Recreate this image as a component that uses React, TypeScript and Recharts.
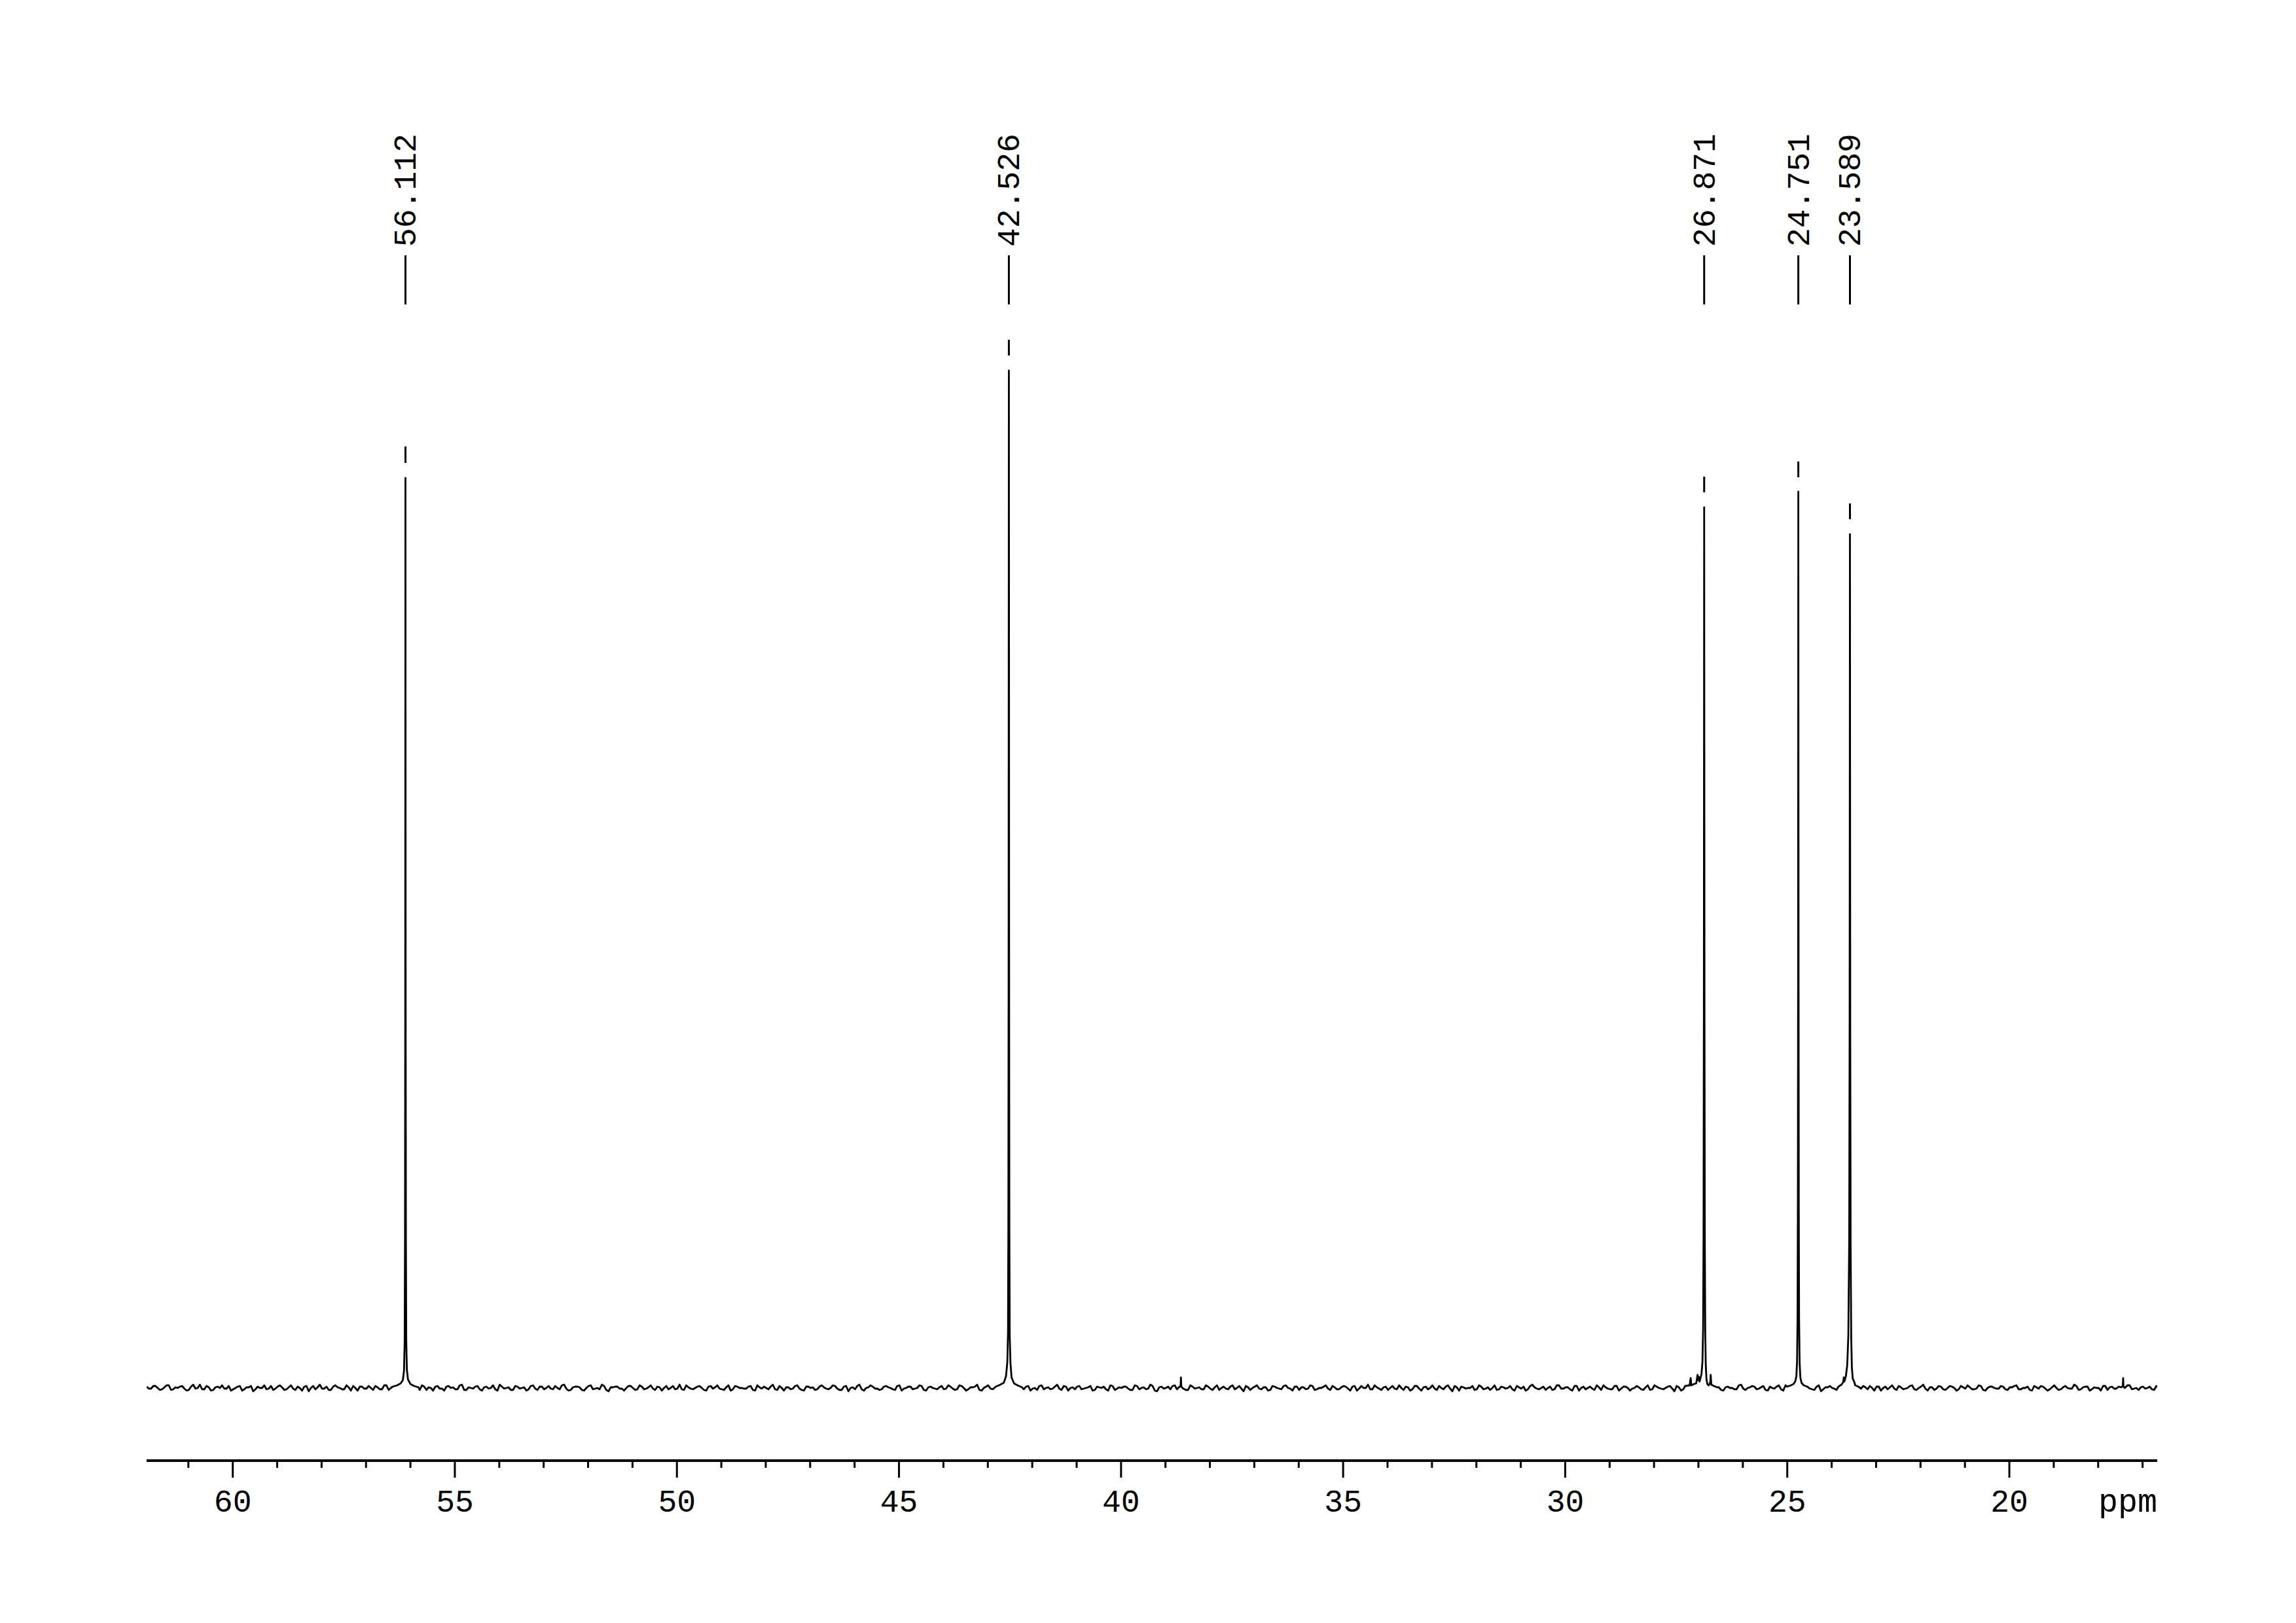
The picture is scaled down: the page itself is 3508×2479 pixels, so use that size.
import React from 'react';
import { ComposedChart, Line, XAxis, YAxis, Scatter, ReferenceLine, Label } from 'recharts';

// ---- axis ----
const X_MIN = 16.67;
const X_MAX = 61.94;
const TICKS = [61, 60, 59, 58, 57, 56, 55, 54, 53, 52, 51, 50, 49, 48, 47, 46, 45, 44, 43, 42, 41, 40, 39, 38, 37, 36, 35, 34, 33, 32, 31, 30, 29, 28, 27, 26, 25, 24, 23, 22, 21, 20, 19, 18, 17];
const AXIS_UNIT = 'ppm';

// ---- baseline noise (sampled every 0.1 ppm from 61.94 downward, plus the in-between samples) ----
const BASE_START = 61.94;
const BASE_STEP = 0.1;
const BASE_NOISE = [
  2, -1, 3, -3, 1, 4, -2, 0, 3, -4, 2, -1, 5, -2, 1, -3, 2, 4, -1, -4, 0, 3, -2, 1, -5, 2, 0, -2, 3, -1,
  4, -3, 1, -1, 2, -4, 3, 0, -2, 5, -1, -3, 2, 1, -2, 4, -4, 0, 2, -1, 3, -3, 1, -2, 4, 0, -5, 2, -1, 3,
  -2, 1, 4, -3, 0, 2, -1, -4, 3, 1, -2, 5, -3, 0, 2, -2, 1, -1, 4, -4, 2, 0, -3, 3, -1, 1, -2, 4, -3, 2,
  0, -1, 3, -2, 5, -4, 1, 2, -3, 0, 4, -1, -2, 3, -5, 1, 2, -1, 0, 3, -3, 4, -2, 1, -1, 2, -4, 3, 0, -2,
  5, -3, 1, -2, 2, 0, -4, 3, 1, -1, -3, 4, -2, 2, 0, -1, 3, -4, 1, 2, -2, 5, -3, 0, 1, -2, 3, -1, -4, 2,
  1, -2, 4, -1, 0, 3, -3, 2, -5, 1, 3, -2, 0, 4, -1, -3, 2, 1, -2, 3, -4, 0, 2, -1, 4, -3, 1, 0, -2, 3,
  -1, 2, -3, 4, 0, -2, 1, 5, -4, 2, -1, 0, 3, -3, 1, -2, 4, -1, 2, -4, 0, 3, -2, 1, -1, 5, -3, 2, 0, -2,
  3, -1, 1, -4, 2, 0, -2, 4, -3, 1, 2, -1, -3, 3, 0, -2, 5, -4, 1, -1, 2, 3, -2, 0, -3, 4, -1, 1, -2, 2,
  -3, 4, 0, -1, 2, -2, 3, -5, 1, 0, 4, -2, 1, -3, 2, -1, 3, 0, -4, 2, 1, -2, 4, -3, 0, 2, -1, 3, -2, 1,
  2, -4, 3, -1, 0, 5, -2, 1, -3, 2, 0, -1, 4, -3, 1, -2, 3, -4, 2, 0, -1, 3, -2, 4, -5, 1, 2, -1, 0, -3,
  4, -2, 1, 0, -3, 2, -1, 3, -4, 1, 2, -2, 5, -1, 0, -3, 2, -2, 4, -1, 1, -4, 3, 0, -2, 2, -3, 1, 4, -1,
  -2, 3, -1, 2, -4, 0, 1, -3, 4, -2, 2, -1, 0, 3, -5, 1, -2, 4, -1, 2, -3, 0, 3, -1, 1, -4, 2, 0, -2, 5,
  -3, 1, 2, -1, 3, -4, 0, 2, -2, 4, -1, 1, -3, 3, 0, -2, 2, -5, 1, 3, -1, -2, 4, 0, -3, 2, -1, 1, 3, -4,
  2, 0, -2, 4, -3, 1, -1, 3, -2, 0, 5, -4, 1, -1, 2, -3, 3, 0, -2, 1, 4, -2, -1, 3, -4, 2, 0, -1, 2, -3,
  1, 4, -2, 0, -3, 3, -1, 2, -4, 1, 0, -2, 3, -1, 5, -3, 1, 2, -2, 0, -4, 3, 1, -1, 2, -3, 4, -2, 0, 1,
  -1, 2, -3, 1,
];
const BASE_NOISE_MID = [
  -1, 3, 0, -2, 4, -3, 1, 2, -1, -3, 5, 0, -2, 3, -4, 1, 0, -1, 3, -2, 2, -4, 1, 3, -2, 0, 4, -1, -3, 2,
  1, -2, 4, -3, 0, 2, -5, 3, 1, -1, 2, -3, 4, 0, -2, 1, 3, -4, 2, -1, 0, 3, -2, 4, -3, 1, -1, 2, -4, 3,
  0, -3, 2, 1, -4, 3, -1, 2, 0, -2, 4, -3, 1, -1, 3, -4, 2, 0, -2, 5, -1, 1, -3, 2, 0, -4, 3, -1, 2, -2,
  3, -2, 0, 4, -1, -3, 2, 1, -4, 3, -2, 0, 5, -3, 1, 2, -1, -4, 3, 0, -2, 2, -1, 4, -3, 1, 0, -2, 3, -1,
  -2, 4, -1, 0, 3, -3, 2, -1, 4, -2, 1, -4, 3, 0, -1, 2, -3, 4, -1, 0, 2, -2, 3, -4, 1, -1, 4, -3, 2, 0,
  -3, 2, 1, -2, 4, -1, -3, 3, 0, -2, 5, -4, 1, 2, -1, -2, 3, 0, -3, 4, -1, 2, -2, 0, 3, -4, 2, -1, 1, -2,
  4, -1, -2, 3, -4, 1, 2, -3, 0, 4, -2, 1, -1, 3, -4, 2, 0, -2, 3, -1, -3, 4, 0, -2, 2, -1, 3, -4, 1, 2,
  -2, 0, 3, -3, 1, 2, -4, 3, -1, 0, 2, -3, 4, -2, 1, -1, 3, -5, 2, 0, -2, 4, -1, 1, -3, 2, 0, -2, 4, -1,
  1, -3, 2, -2, 4, 0, -1, 3, -3, 2, -1, 1, -4, 3, 0, -2, 4, -1, 2, -3, 1, -1, 3, -2, 0, 4, -3, 1, -2, 3,
  -1, 2, -4, 3, 0, -2, 4, -1, 1, -3, 3, -2, 0, 2, -4, 3, -1, 1, -2, 4, -3, 0, 2, -1, 3, -4, 1, 0, 3, -2,
  2, -1, -3, 4, -2, 1, 0, -2, 3, -1, -4, 3, 1, -2, 2, 0, -3, 4, -1, 1, -2, 3, -4, 2, 0, -1, 4, -3, 1, -2,
  3, -4, 2, 0, -1, 3, -2, 1, -3, 4, 0, -2, 2, -1, 3, -4, 1, 2, -3, 0, 4, -2, -1, 3, -3, 1, 0, -2, 4, -1,
  0, 3, -2, 1, -3, 2, -1, 4, -4, 1, 2, -2, 0, 3, -1, -3, 4, -2, 1, 0, -3, 3, -1, 2, -4, 1, 3, -2, 0, 2,
  -4, 2, 1, -1, 3, -2, 0, 4, -3, 2, -1, 1, -3, 3, -2, 0, 2, -4, 3, -1, 1, -2, 4, -3, 0, 2, -1, 3, -2, 1,
  3, -2, 0, 2, -4, 1, 3, -1, -2, 4, -3, 1, 0, -1, 3, -2, 2, -4, 1, 0, 3, -3, 2, -1, 1, -2, 4, -1, -3, 2,
  0, -2, 3, -1,
];

// ---- peaks (ppm, intensity) ----
const PEAK_56 = [
  [56.40, 2], [56.30, 4], [56.22, 7], [56.17, 12], [56.145, 26], [56.13, 70], [56.122, 220], [56.117, 560],
  [56.114, 1050], [56.112, 1390], [56.110, 1040], [56.107, 550], [56.102, 225], [56.094, 72], [56.08, 28],
  [56.055, 13], [56.00, 6], [55.92, 3], [55.82, 1],
];
const PEAK_42 = [
  [42.82, 2], [42.72, 5], [42.64, 8], [42.59, 18], [42.56, 40], [42.545, 85], [42.537, 250], [42.532, 600],
  [42.529, 1150], [42.526, 1554], [42.523, 1140], [42.520, 590], [42.515, 245], [42.507, 80], [42.49, 38],
  [42.465, 16], [42.41, 7], [42.33, 4], [42.23, 1],
];
const PEAK_26 = [
  [27.30, 3], [27.20, 4], [27.175, 15], [27.16, 4], [27.10, 6], [27.05, 7], [27.02, 20], [27.005, 12],
  [26.99, 17], [26.975, 10], [26.95, 16], [26.93, 22], [26.91, 40], [26.895, 90], [26.885, 230],
  [26.878, 560], [26.874, 1000], [26.871, 1345], [26.868, 990], [26.864, 560], [26.857, 230], [26.847, 85],
  [26.835, 35], [26.82, 14], [26.80, 6], [26.77, 4], [26.735, 8], [26.724, 20], [26.71, 5], [26.65, 3],
  [26.58, 1],
];
const PEAK_24 = [
  [25.00, 2], [24.92, 4], [24.86, 6], [24.82, 10], [24.795, 18], [24.78, 40], [24.768, 110], [24.761, 290],
  [24.756, 640], [24.753, 1050], [24.751, 1369], [24.749, 1040], [24.746, 630], [24.741, 280], [24.734, 105],
  [24.722, 38], [24.705, 16], [24.68, 8], [24.63, 4], [24.55, 2],
];
const PEAK_23 = [
  [23.85, 2], [23.78, 5], [23.74, 9], [23.727, 16], [23.715, 10], [23.68, 18], [23.65, 35], [23.625, 80],
  [23.605, 230], [23.596, 540], [23.592, 950], [23.589, 1304], [23.586, 940], [23.582, 530], [23.574, 220],
  [23.56, 75], [23.545, 30], [23.525, 14], [23.495, 10], [23.47, 4], [23.40, 2],
];
const SPIKE_38 = [[38.70, 1], [38.66, 3], [38.652, 16], [38.644, 2], [38.60, -1]];
const SPIKE_17 = [[17.48, 1], [17.445, 3], [17.438, 15], [17.43, 2], [17.40, 0]];

const FEATURES = [PEAK_56, PEAK_42, PEAK_26, PEAK_24, PEAK_23, SPIKE_38, SPIKE_17];

// peak pick annotations
const PEAK_PPM = [56.112, 42.526, 26.871, 24.751, 23.589];
const PEAK_LABELS = ['56.112', '42.526', '26.871', '24.751', '23.589'];
// short apex segments drawn above each peak
const PEAK_DASH_LO = [1413, 1577, 1368, 1391, 1327];
const PEAK_DASH_HI = [1438, 1601, 1392, 1415, 1351];

// ---- layout ----
const W = 3508;
const H = 2479;
const Y_DOMAIN: [number, number] = [-111, 1970];
const LABEL_ANCHOR = 1655;
const FONT = "'Liberation Mono', 'DejaVu Sans Mono', monospace";

const featurePts = FEATURES.flat().map(([ppm, v]) => ({ ppm, v }));
const ranges = FEATURES.map((f) => [Math.min(...f.map((p) => p[0])), Math.max(...f.map((p) => p[0]))]);
const inFeature = (ppm: number) => ranges.some(([a, b]) => ppm >= a - 0.02 && ppm <= b + 0.02);
const basePts = [
  ...BASE_NOISE.map((v, i) => ({ ppm: +(BASE_START - i * BASE_STEP).toFixed(3), v })),
  ...BASE_NOISE_MID.map((v, i) => ({ ppm: +(BASE_START - (i + 0.5) * BASE_STEP).toFixed(3), v })),
].filter((p) => !inFeature(p.ppm));
const SPECTRUM = [...basePts, ...featurePts].sort((a, b) => b.ppm - a.ppm);
const LABEL_DATA = PEAK_PPM.map((ppm, i) => ({ ppm, lab: LABEL_ANCHOR, label: PEAK_LABELS[i] }));

const AxisTick = (props: any) => {
  const { x, y, payload } = props;
  const v = payload.value;
  const major = v % 5 === 0;
  return (
    <g>
      <line x1={x} x2={x} y1={y} y2={y + (major ? 26 : 11)} stroke="#000" strokeWidth={3} />
      {major && (
        <text x={x} y={y + 78} textAnchor="middle" fontFamily={FONT} fontSize={48} fill="#000">
          {v}
        </text>
      )}
    </g>
  );
};

const PeakLabel = (props: any) => {
  const { cx, cy, payload } = props;
  if (cx == null || cy == null) return null;
  const tx = cx + 16;
  const ty = cy - 88;
  return (
    <g>
      <line x1={cx} x2={cx} y1={cy} y2={cy - 75} stroke="#000" strokeWidth={3} />
      <text
        x={tx}
        y={ty}
        transform={`rotate(-90 ${tx} ${ty})`}
        textAnchor="start"
        fontFamily={FONT}
        fontSize={48}
        fill="#000"
      >
        {payload.label}
      </text>
    </g>
  );
};

const UnitLabel = (props: any) => {
  const vb = props.viewBox || {};
  return (
    <text x={vb.x + vb.width} y={vb.y + 78} textAnchor="end" fontFamily={FONT} fontSize={50} fill="#000">
      {AXIS_UNIT}
    </text>
  );
};

export default function App() {
  return (
    <div style={{ position: 'absolute', left: 0, top: 0, width: W, height: H, background: '#fff' }}>
      <ComposedChart
        width={W}
        height={H}
        data={SPECTRUM}
        margin={{ top: 150, right: 212, bottom: 148, left: 224 }}
      >
        <XAxis
          dataKey="ppm"
          type="number"
          domain={[X_MIN, X_MAX]}
          reversed
          allowDataOverflow
          ticks={TICKS}
          interval={0}
          tickSize={0}
          tickMargin={0}
          tickLine={false}
          axisLine={{ stroke: '#000', strokeWidth: 4 }}
          tick={<AxisTick />}
          height={100}
        >
          <Label content={<UnitLabel />} />
        </XAxis>
        <YAxis hide type="number" domain={Y_DOMAIN} allowDataOverflow />
        <Line
          dataKey="v"
          type="linear"
          stroke="#000"
          strokeWidth={2.8}
          strokeLinejoin="round"
          dot={false}
          activeDot={false}
          isAnimationActive={false}
        />
        {PEAK_PPM.map((p, i) => (
          <ReferenceLine
            key={'dash' + i}
            segment={[
              { x: p, y: PEAK_DASH_LO[i] },
              { x: p, y: PEAK_DASH_HI[i] },
            ]}
            stroke="#000"
            strokeWidth={3}
            ifOverflow="visible"
          />
        ))}
        <Scatter data={LABEL_DATA} dataKey="lab" shape={<PeakLabel />} isAnimationActive={false} />
      </ComposedChart>
    </div>
  );
}
